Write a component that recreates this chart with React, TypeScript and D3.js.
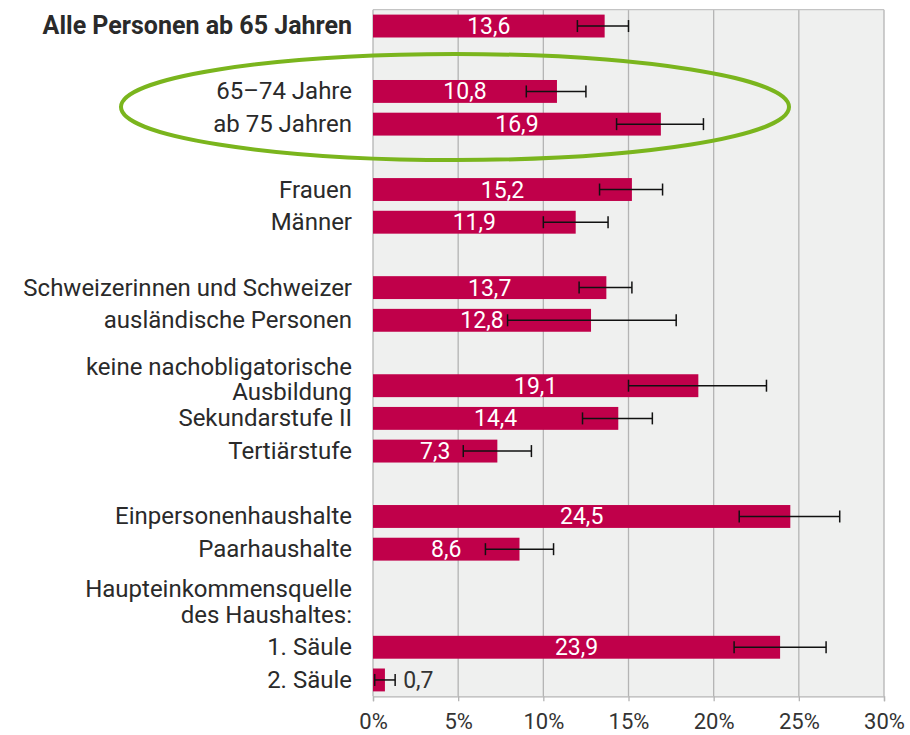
import React, { useEffect, useRef } from 'react';
import * as d3 from 'd3';

// rows of the chart (slot = vertical position on a 21 slot grid)
const labels = [
  'Alle Personen ab 65 Jahren',
  '65–74 Jahre',
  'ab 75 Jahren',
  'Frauen',
  'Männer',
  'Schweizerinnen und Schweizer',
  'ausländische Personen',
  'keine nachobligatorische|Ausbildung',
  'Sekundarstufe II',
  'Tertiärstufe',
  'Einpersonenhaushalte',
  'Paarhaushalte',
  '1. Säule',
  '2. Säule',
];
const slots = [0, 2, 3, 5, 6, 8, 9, 11, 12, 13, 15, 16, 19, 20];
const values = [13.6, 10.8, 16.9, 15.2, 11.9, 13.7, 12.8, 19.1, 14.4, 7.3, 24.5, 8.6, 23.9, 0.7];
const errLow = [12.0, 9.0, 14.3, 13.3, 10.0, 12.1, 7.9, 15.0, 12.3, 5.3, 21.5, 6.6, 21.2, 0.1];
const errHigh = [15.0, 12.5, 19.4, 17.0, 13.8, 15.2, 17.8, 23.1, 16.4, 9.3, 27.4, 10.6, 26.6, 1.3];
const headingLines = ['Haupteinkommensquelle', 'des Haushaltes:'];
const ticks = [0, 5, 10, 15, 20, 25, 30];

const W = 910;
const H = 735;
const FONT = 'Roboto, "Noto Sans", sans-serif';

export default function App() {
  const ref = useRef<SVGSVGElement>(null);

  useEffect(() => {
    const svg = d3.select(ref.current);
    svg.selectAll('*').remove();

    const x = d3.scaleLinear().domain([0, 30]).range([373, 884]);
    const y = d3.scaleBand<number>()
      .domain(d3.range(21))
      .range([9.7, 696.3])
      .paddingInner(0.3)
      .paddingOuter(0.15);
    const bw = y.bandwidth();
    const cy = (s: number) => (y(s) as number) + bw / 2;

    // plot background
    svg.append('rect')
      .attr('x', x(0)).attr('y', 9.7)
      .attr('width', x(30) - x(0)).attr('height', 696.3 - 9.7)
      .attr('fill', '#eff0ef');

    // grid
    svg.append('g').selectAll('line').data(ticks).join('line')
      .attr('x1', (d) => x(d)).attr('x2', (d) => x(d))
      .attr('y1', 9.7).attr('y2', 696.3)
      .attr('stroke', '#b4b4b4').attr('stroke-width', 1.3);
    svg.append('line')
      .attr('x1', x(0)).attr('x2', x(30)).attr('y1', 9.7).attr('y2', 9.7)
      .attr('stroke', '#c4c4c4').attr('stroke-width', 1.3);

    // x axis
    const axis = svg.append('g')
      .attr('transform', 'translate(0,696.3)')
      .call(d3.axisBottom(x).tickValues(ticks).tickSize(5).tickFormat((d) => `${d}%`));
    axis.select('.domain').attr('stroke', '#b4b4b4').attr('stroke-width', 1.3);
    axis.selectAll('.tick line').attr('stroke', '#b4b4b4').attr('stroke-width', 1.3);
    axis.selectAll('.tick text')
      .attr('dy', 0).attr('y', 33)
      .attr('fill', '#333')
      .style('font-family', FONT).style('font-size', '22px');

    const rows = labels.map((l, i) => ({
      label: l, slot: slots[i], v: values[i], lo: errLow[i], hi: errHigh[i], i,
    }));

    // bars
    svg.append('g').selectAll('rect').data(rows).join('rect')
      .attr('x', x(0)).attr('y', (d) => y(d.slot) as number)
      .attr('width', (d) => x(d.v) - x(0)).attr('height', bw)
      .attr('fill', '#c0004a');

    // error bars
    const eb = svg.append('g').attr('stroke', '#111').attr('stroke-width', 1.5);
    rows.forEach((d) => {
      const c = cy(d.slot);
      eb.append('line').attr('x1', x(d.lo)).attr('x2', x(d.hi)).attr('y1', c).attr('y2', c);
      eb.append('line').attr('x1', x(d.lo)).attr('x2', x(d.lo)).attr('y1', c - 6).attr('y2', c + 6);
      eb.append('line').attr('x1', x(d.hi)).attr('x2', x(d.hi)).attr('y1', c - 6).attr('y2', c + 6);
    });

    // value labels
    svg.append('g').selectAll('text').data(rows).join('text')
      .attr('x', (d) => (d.v < 3 ? x(d.hi) + 8 : x(d.v / 2)))
      .attr('y', (d) => cy(d.slot) + 8)
      .attr('text-anchor', (d) => (d.v < 3 ? 'start' : 'middle'))
      .attr('fill', (d) => (d.v < 3 ? '#333' : '#fff'))
      .style('font-family', FONT).style('font-size', '23px')
      .text((d) => d.v.toFixed(1).replace('.', ','));

    // category labels
    const lab = svg.append('g')
      .attr('text-anchor', 'end').attr('fill', '#2a2a2a')
      .style('font-family', FONT).style('font-size', '24px');
    rows.forEach((d) => {
      const parts = d.label.split('|');
      const c = cy(d.slot);
      parts.forEach((p, k) => {
        lab.append('text')
          .attr('x', 352)
          .attr('y', parts.length > 1 ? c + 14 - (parts.length - 1 - k) * 25 : c + 8)
          .style('font-weight', d.i === 0 ? 'bold' : 'normal')
          .style('font-size', d.i === 0 ? '25px' : null)
          .text(p);
      });
    });
    headingLines.forEach((p, k) => {
      lab.append('text')
        .attr('x', 352)
        .attr('y', cy(17) + 15 + k * 26)
        .text(p);
    });

    // green highlight ellipse
    svg.append('ellipse')
      .attr('cx', 455).attr('cy', 107).attr('rx', 334).attr('ry', 53)
      .attr('fill', 'none').attr('stroke', '#7ab51d').attr('stroke-width', 4);
  }, []);

  return (
    <svg ref={ref} width={W} height={H}
      style={{ position: 'absolute', left: 0, top: 0, background: '#fff' }} />
  );
}
